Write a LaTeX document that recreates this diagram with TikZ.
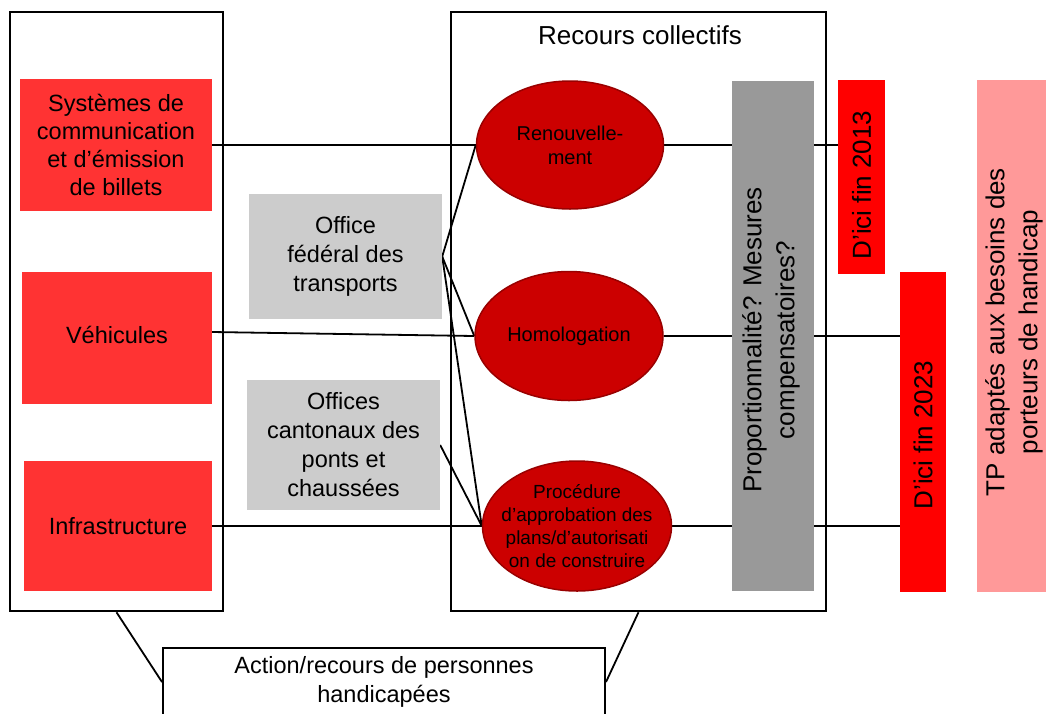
\documentclass[tikz,border=0pt]{standalone}
\usepackage{fontspec}
\setmainfont{Liberation Sans}
\usetikzlibrary{shapes.geometric,backgrounds}
\definecolor{boxred}{HTML}{FF3333}
\definecolor{ellred}{HTML}{CC0000}
\definecolor{ellborder}{HTML}{990000}
\definecolor{lightgray}{HTML}{CCCCCC}
\definecolor{bargray}{HTML}{999999}
\definecolor{pureRed}{HTML}{FF0000}
\definecolor{pinkred}{HTML}{FF9999}
\begin{document}
\begin{tikzpicture}[x=1pt,y=-1pt,
  frame/.style={draw=black,line width=2.5pt,inner sep=0pt},
  redbox/.style={fill=boxred,inner sep=0pt,align=center,font=\fontsize{23.5}{28}\selectfont},
  graybox/.style={fill=lightgray,inner sep=0pt,align=center,font=\fontsize{23.5}{29}\selectfont},
  oval/.style={ellipse,fill=ellred,draw=ellborder,line width=1.5pt,inner sep=0pt},
  ovaltext/.style={align=center,inner sep=0pt,font=\fontsize{20}{24}\selectfont},
  vbar/.style={inner sep=0pt,align=center,font=\fontsize{26}{33}\selectfont},
  conn/.style={draw=black,line width=1.8pt}
]
\useasboundingbox (0,0) rectangle (1046,713);
\clip (0,0) rectangle (1046,713);

% frames
\node[frame,minimum width=213,minimum height=599] (leftbox) at (116.5,311.5) {};
\node[frame,minimum width=375,minimum height=599] (midbox) at (638.5,311.5) {};
\node[inner sep=0pt,font=\fontsize{26}{30}\selectfont] (title) at (640,35) {Recours collectifs};

% left red boxes
\node[redbox,minimum width=192,minimum height=132] (sys) at (116,145) {Systèmes de\\communication\\et d’émission\\de billets};
\node[redbox,minimum width=190,minimum height=132,text depth=6pt] (veh) at (117,338) {Véhicules};
\node[redbox,minimum width=188,minimum height=130] (infra) at (118,526) {Infrastructure};

% gray offices
\node[graybox,minimum width=193,minimum height=125] (ofed) at (345.5,256.5) {Office\\fédéral des\\transports};
\node[graybox,minimum width=193,minimum height=130] (ocant) at (343.5,445) {Offices\\cantonaux des\\ponts et\\chaussées};

% ellipses
\node[oval,minimum width=187,minimum height=128] (ell1) at (570,145) {};
\node[ovaltext] (t1) at (ell1) {Renouvelle-\\ment};
\node[oval,minimum width=188,minimum height=129] (ell2) at (569,336) {};
\node[ovaltext] (t2) at (ell2) {Homologation};
\node[oval,minimum width=189,minimum height=130] (ell3) at (577,526) {};
\node[ovaltext,font=\fontsize{19}{23}\selectfont] (t3) at (ell3) {Procédure\\d’approbation des\\plans/d’autorisati\\on de construire};

% vertical bars
\node[vbar,fill=bargray,minimum width=82,minimum height=510] (gbar) at (773,336) {};
\node[vbar,rotate=90] (gbartext) at (771,340) {Proportionnalité? Mesures\\compensatoires?};
\node[vbar,fill=pureRed,minimum width=47,minimum height=194] (d13) at (861.5,177) {};
\node[vbar,rotate=90] (d13text) at (861.5,185) {D’ici fin 2013};
\node[vbar,fill=pureRed,minimum width=46,minimum height=320] (d23) at (923,432) {};
\node[vbar,rotate=90] (d23text) at (923,435) {D’ici fin 2023};
\node[vbar,fill=pinkred,minimum width=75,minimum height=512] (tp) at (1014.5,336) {};
\node[vbar,rotate=90] (tptext) at (1014,332) {TP adaptés aux besoins des\\porteurs de handicap};

% bottom box
\node[draw=black,line width=2pt,fill=white,minimum width=442,minimum height=68,inner sep=0pt,align=center,font=\fontsize{23.5}{29}\selectfont] (bot) at (384,682) {Action/recours de personnes\\handicapées};

% connectors
\begin{pgfonlayer}{background}
\draw[conn] (sys.east) -- (ell1.west);
\draw[conn] ([yshift=6pt]veh.east) -- (ell2.west);
\draw[conn] (infra.east) -- (ell3.west);
\draw[conn] (ofed.east) -- (ell1.west);
\draw[conn] (ofed.east) -- (ell2.west);
\draw[conn] (ofed.east) -- (ell3.west);
\draw[conn] (ocant.east) -- (ell3.west);
\draw[conn] (ell1.east) -- (ell1.east -| d13.west);
\draw[conn] (ell2.east) -- (ell2.east -| d23.west);
\draw[conn] (ell3.east) -- (ell3.east -| d23.west);
\draw[conn] (leftbox.south) -- (bot.west);
\draw[conn] (midbox.south) -- (bot.east);
\end{pgfonlayer}
\end{tikzpicture}
\end{document}
